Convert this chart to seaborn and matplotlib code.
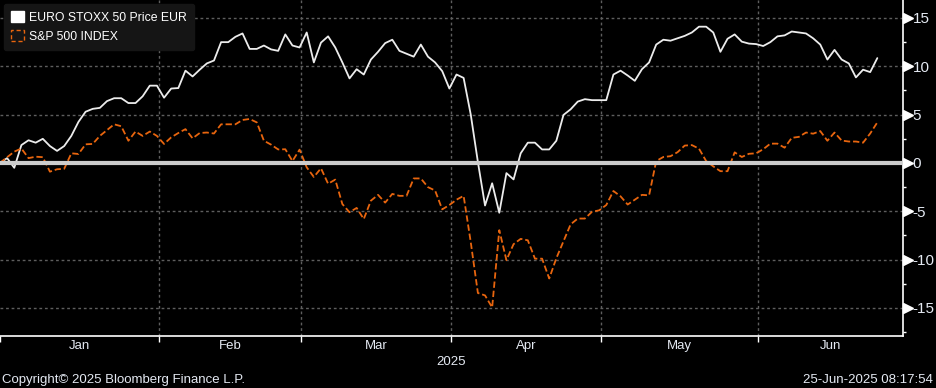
import matplotlib
matplotlib.use("Agg")
import matplotlib.pyplot as plt
import seaborn as sns
import numpy as np
import pandas as pd
from matplotlib.patches import Patch
from matplotlib.transforms import blended_transform_factory

# ---------------- data ----------------
dates = pd.bdate_range("2025-01-01", "2025-06-24")
dates = dates[dates != pd.Timestamp("2025-04-18")]

euro_stoxx = [
    0.0, 0.5, -0.5, 1.85, 2.35, 2.1, 2.5, 1.75, 1.25, 1.75,
    2.8, 4.25, 5.3, 5.6, 5.7, 6.4, 6.7, 6.7, 6.2, 6.2,
    6.9, 8.0, 8.0, 6.75, 7.7, 7.75, 9.55, 8.95, 9.65, 10.3,
    10.6, 12.5, 12.5, 13.05, 13.4, 11.8, 11.8, 12.15, 11.75, 11.6,
    13.3, 12.15, 11.95, 13.5, 10.4, 12.45, 13.1, 11.95, 10.4, 8.75,
    9.7, 9.15, 10.7, 11.5, 12.4, 12.75, 11.6, 11.3, 11.0, 12.25,
    11.0, 10.4, 9.5, 7.7, 9.15, 8.8, 5.0, 0.1, -4.4, -2.1,
    -5.15, -1.05, -1.7, 1.0, 2.1, 2.1, 1.4, 1.4, 2.3, 4.97,
    5.55, 6.35, 6.6, 6.5, 6.5, 6.5, 9.15, 9.55, 9.05, 8.5,
    9.7, 10.4, 12.25, 12.75, 12.65, 12.9, 13.15, 13.5, 14.1, 14.1,
    13.5, 11.5, 12.85, 13.3, 12.55, 12.35, 12.3, 12.1, 12.5, 13.1,
    13.2, 13.6, 13.5, 13.4, 12.9, 12.25, 10.7, 11.7, 10.7, 10.3,
    8.85, 9.65, 9.4, 10.85,
]

sp500 = [
    0.0, 0.6, 1.17, 1.5, 0.5, 0.65, 0.6, -0.9, -0.65, -0.6,
    1.0, 0.93, 1.93, 1.97, 2.8, 3.4, 4.0, 3.8, 2.3, 3.25,
    2.8, 3.25, 2.8, 1.97, 2.65, 3.1, 3.5, 2.55, 3.1, 3.15,
    3.05, 4.0, 4.0, 4.0, 4.45, 4.55, 4.2, 2.3, 1.9, 1.4,
    1.42, 0.2, 1.38, -0.45, -1.45, -0.55, -2.15, -1.72, -4.25, -5.1,
    -4.65, -5.8, -3.9, -3.3, -4.1, -3.2, -3.4, -3.4, -1.6, -1.6,
    -2.5, -2.85, -4.8, -4.35, -3.8, -3.4, -8.2, -13.45, -13.7, -14.95,
    -6.95, -10.05, -8.4, -7.85, -8.0, -9.9, -9.9, -11.95, -9.85, -8.1,
    -6.35, -5.75, -5.75, -5.05, -4.9, -4.35, -2.9, -3.45, -4.3, -3.8,
    -3.3, -3.35, 0.2, 0.62, 0.7, 1.12, 1.8, 1.85, 1.48, 0.2,
    -0.35, -0.85, -0.85, 1.1, 0.62, 0.95, 1.0, 1.42, 2.0, 2.0,
    1.58, 2.6, 2.7, 3.15, 3.03, 3.3, 2.3, 3.15, 2.32, 2.22,
    2.22, 2.1, 3.05, 4.2,
]

series_names = ["EURO STOXX 50 Price EUR", "S&P 500 INDEX"]
y_ticks = [-15, -10, -5, 0, 5, 10, 15]
year_label = "2025"
copyright_text = "Copyright\u00a9 2025 Bloomberg Finance L.P."
stamp_text = "25-Jun-2025 08:17:54"

# ---------------- style ----------------
sns.set_theme(style="dark")
plt.rcParams["font.family"] = ["Liberation Sans", "DejaVu Sans"]

WHITE = "#ececec"
ORANGE = "#e8650e"
GRID = "#5e5e5e"
TXT = "#e4e9f2"

W, H = 936, 388
fig = plt.figure(figsize=(W / 100, H / 100), dpi=100, facecolor="black")
ax_left, ax_right, ax_bottom = 0, 903, 336
ax = fig.add_axes([ax_left / W, 1 - ax_bottom / H, (ax_right - ax_left) / W, ax_bottom / H])
ax.set_facecolor("black")

x = np.arange(len(dates))
df = pd.DataFrame({"x": x, "euro": euro_stoxx, "spx": sp500})

sns.lineplot(data=df, x="x", y="euro", ax=ax, color=WHITE, lw=1.3, zorder=3)
sns.lineplot(data=df, x="x", y="spx", ax=ax, color=ORANGE, lw=1.3,
             linestyle=(0, (3.5, 1.6)), zorder=3)

x_max = 126.6
ax.set_xlim(0, x_max)
ax.set_ylim(-17.9, 16.86)

# month boundaries in trading-day index space
months = dates.month
starts = [i for i in range(1, len(dates)) if months[i] != months[i - 1]]
bounds = [s - 0.75 for s in starts]
edges = [0] + bounds + [x_max]
mids = [(edges[i] + edges[i + 1]) / 2 for i in range(len(edges) - 1)]
month_labels = [dates[0].strftime("%b")] + [dates[s].strftime("%b") for s in starts]

# grid
for v in y_ticks:
    if v != 0:
        ax.axhline(v, color=GRID, lw=1, ls=(0, (2, 2)), zorder=1)
for b in bounds:
    ax.axvline(b, color=GRID, lw=1, ls=(0, (2, 2)), zorder=1)
ax.axhline(0, color="#cccccc", lw=3.0, zorder=4)

# spines
for s in ["top", "left"]:
    ax.spines[s].set_visible(False)
for s in ["right", "bottom"]:
    ax.spines[s].set_visible(True)
    ax.spines[s].set_color("white")
    ax.spines[s].set_linewidth(1.2)

# y axis on right
ax.yaxis.tick_right()
ax.set_yticks(y_ticks)
ax.set_yticklabels([str(v) for v in y_ticks])
ax.set_yticks([-17.5, -12.5, -7.5, -2.5, 2.5, 7.5, 12.5], minor=True)
ax.tick_params(axis="y", which="major", length=0, pad=7, labelsize=11, labelcolor=TXT,
               right=True, left=False, labelright=True, labelleft=False)
ax.tick_params(axis="y", which="minor", length=2.5, width=1, color="white",
               direction="out", right=True, left=False)
trans = blended_transform_factory(ax.transAxes, ax.transData)
ax.plot([1 + 4.5 / 903] * len(y_ticks), y_ticks, marker=">", ms=6.5, color="white",
        ls="", transform=trans, clip_on=False, zorder=6)

# x axis
ax.set_xticks([0] + bounds)
ax.set_xticklabels([""] * (len(bounds) + 1))
ax.set_xticks(mids, minor=True)
ax.set_xticklabels(month_labels, minor=True)
ax.tick_params(axis="x", which="major", length=4, width=1, color="white", direction="out",
               bottom=True)
ax.tick_params(axis="x", which="minor", length=0, pad=3, labelsize=9.5, labelcolor=TXT,
               bottom=True)
ax.set_xlabel("")
ax.set_ylabel("")
ax.grid(False)

# legend
handles = [Patch(facecolor="white", edgecolor="white"),
           Patch(facecolor="none", edgecolor=ORANGE, linestyle=(0, (3, 2)), lw=1)]
leg = ax.legend(handles, series_names, loc="upper left",
                bbox_to_anchor=(4 / 903, 1 - 4 / 336), borderaxespad=0,
                frameon=True, facecolor="#151515", edgecolor="#151515", framealpha=1,
                fancybox=True, handlelength=1.0, handleheight=1.0,
                handletextpad=0.45, borderpad=0.6, labelspacing=0.5,
                prop={"family": ["Liberation Sans", "DejaVu Sans"], "size": 8.8})
for t in leg.get_texts():
    t.set_color("white")
leg.set_zorder(10)

fig.text(451.5 / W, 1 - 362 / H, year_label, ha="center", va="center", color=TXT, fontsize=9.5)
fig.text(2 / W, 1 - 380 / H, copyright_text, ha="left", va="center", color=TXT, fontsize=9.5)
fig.text(933 / W, 1 - 380 / H, stamp_text, ha="right", va="center", color=TXT, fontsize=9.5)

fig.savefig("out.png", dpi=100, facecolor="black")
